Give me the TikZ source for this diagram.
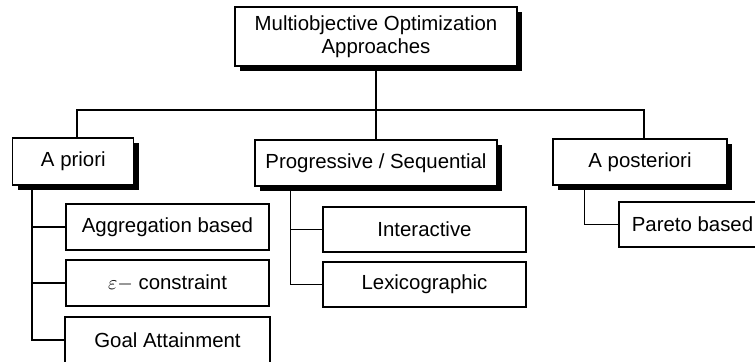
\documentclass[tikz,border=0pt]{standalone}
\usepackage{fontspec}
\setmainfont{Liberation Sans}
\usetikzlibrary{shadows}
\begin{document}
\begin{tikzpicture}[x=0.5pt,y=0.5pt]
\tikzstyle{every node}+=[inner sep=0pt, font=\fontsize{10.2}{11.5}\selectfont]
\tikzstyle{box}=[draw, line width=0.65pt, fill=white, align=center, minimum height=23pt]
\tikzstyle{shbox}=[box, drop shadow={shadow xshift=2.5pt, shadow yshift=-2.5pt, opacity=1, fill=black}]
\tikzstyle{link}=[line width=0.85pt]
\clip (0,0) rectangle (755,-361);
% top level
\node [shbox, minimum width=141pt, minimum height=29.5pt] (moo) at (376,-36.5) {Multiobjective Optimization\\Approaches};
\node [shbox, minimum width=60.5pt, minimum height=23.5pt] (apriori) at (73.3,-161.5) {A priori};
\node [shbox, minimum width=121pt] (prog) at (376,-163) {Progressive / Sequential};
\node [shbox, minimum width=87pt] (apost) at (640,-162) {A posteriori};
% leaves
\node [box, minimum width=101.5pt] (aggr) at (167.5,-227) {Aggregation based};
\node [box, minimum width=101.5pt] (eps) at (167.5,-283) {$\varepsilon-$ constraint};
\node [box, minimum width=102.5pt] (goal) at (167.5,-340) {Goal Attainment};
\node [box, minimum width=101.5pt, minimum height=22.5pt] (inter) at (424.5,-229.5) {Interactive};
\node [box, minimum width=101.5pt, minimum height=22.5pt] (lexi) at (424.5,-284.5) {Lexicographic};
\node [box, minimum width=73.5pt, minimum height=22.5pt] (pareto) at (692.5,-224.5) {Pareto based};
% connectors
\coordinate (tie) at (376,-110);
\draw [link] (moo.south) -- (prog.north);
\draw [link] ([xshift=2pt]apriori.north) |- (tie) -| ([xshift=2pt]apost.north);
\foreach \n in {aggr,eps,goal}
  \draw [link] ([xshift=10pt]apriori.south west) |- (\n.west);
\foreach \n in {inter,lexi}
  \draw [link] ([xshift=18pt]prog.south west) |- (\n.west);
\draw [link] ([xshift=16pt]apost.south west) |- (pareto.west);
\end{tikzpicture}
\end{document}
